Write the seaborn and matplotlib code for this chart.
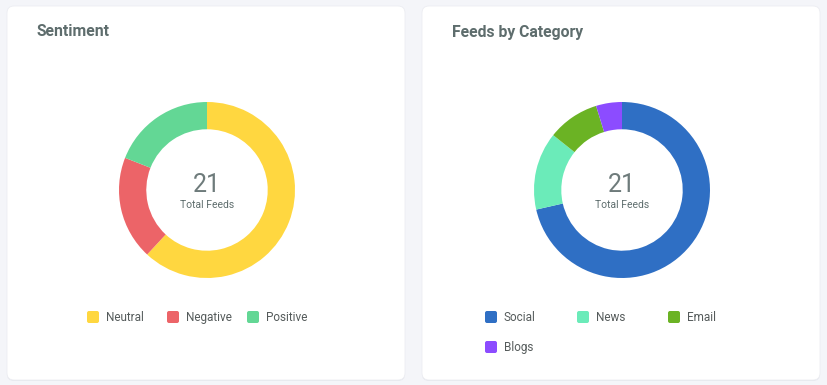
import matplotlib
matplotlib.use("Agg")
import matplotlib.pyplot as plt
from matplotlib.patches import FancyBboxPatch
import seaborn as sns

# ---- data ----
sent_labels = ["Neutral", "Negative", "Positive"]
sent_values = [13, 4, 4]
sent_colors = ["#FFD740", "#EC6468", "#63D795"]

cat_labels = ["Social", "News", "Email", "Blogs"]
cat_values = [15, 3, 2, 1]
cat_colors = ["#2F6FC4", "#6BEBB9", "#6BB324", "#8C4CFF"]

titles = ["Sentiment", "Feeds by Category"]
center_label = "Total Feeds"

sns.set_theme(style="white")
plt.rcParams['font.family'] = ['Roboto', 'DejaVu Sans']

W, H = 828, 385
fig = plt.figure(figsize=(W / 100, H / 100), dpi=100)
fig.patch.set_facecolor("#F4F5F9")

bg = fig.add_axes([0, 0, 1, 1])
bg.set_xlim(0, W)
bg.set_ylim(H, 0)
bg.axis("off")

# cards
for x0, x1 in [(7, 405), (422, 820)]:
    shadow = FancyBboxPatch((x0, 7), x1 - x0, 374, boxstyle="round,pad=0,rounding_size=7",
                            fc="#E6E8EE", ec="none", zorder=1)
    card = FancyBboxPatch((x0, 6), x1 - x0, 374, boxstyle="round,pad=0,rounding_size=7",
                          fc="white", ec="#ECEDF2", lw=0.6, zorder=2)
    bg.add_patch(shadow)
    bg.add_patch(card)

title_color = "#5E6D6D"
bg.text(37, 32, titles[0], fontsize=11.3, fontweight="bold", color=title_color,
        ha="left", va="center", zorder=3)
bg.text(452, 32, titles[1], fontsize=11.3, fontweight="bold", color=title_color,
        ha="left", va="center", zorder=3)


def donut(cx, cy, r, values, colors, total):
    ax = fig.add_axes([(cx - r) / W, (H - cy - r) / H, 2 * r / W, 2 * r / H])
    ax.pie(values, colors=colors, startangle=90, counterclock=False, radius=1,
           wedgeprops=dict(width=0.31, edgecolor="none"))
    ax.set_xlim(-1, 1)
    ax.set_ylim(-1, 1)
    ax.set_aspect("equal")
    ax.axis("off")
    ax.text(0, 0.06, str(total), fontsize=18, fontweight="normal", color="#6E7B7B",
            ha="center", va="center")
    ax.text(0, -0.165, center_label, fontsize=7.5, color="#5E6D6D",
            ha="center", va="center")


donut(207, 190, 88, sent_values, sent_colors, sum(sent_values))
donut(622, 190, 88, cat_values, cat_colors, sum(cat_values))


def legend(items, colors, xs, ys):
    for lab, col, x, y in zip(items, colors, xs, ys):
        sq = FancyBboxPatch((x, y - 6), 12, 12, boxstyle="round,pad=0,rounding_size=2",
                            fc=col, ec="none", zorder=3)
        bg.add_patch(sq)
        bg.text(x + 19, y + 0.5, lab, fontsize=8.5, color="#555B5B", ha="left", va="center",
                zorder=3)


legend(sent_labels, sent_colors, [87, 167, 247], [317, 317, 317])
legend(cat_labels, cat_colors, [485, 577, 668, 485], [317, 317, 317, 347])

fig.savefig("out.png", dpi=100, facecolor=fig.get_facecolor())
